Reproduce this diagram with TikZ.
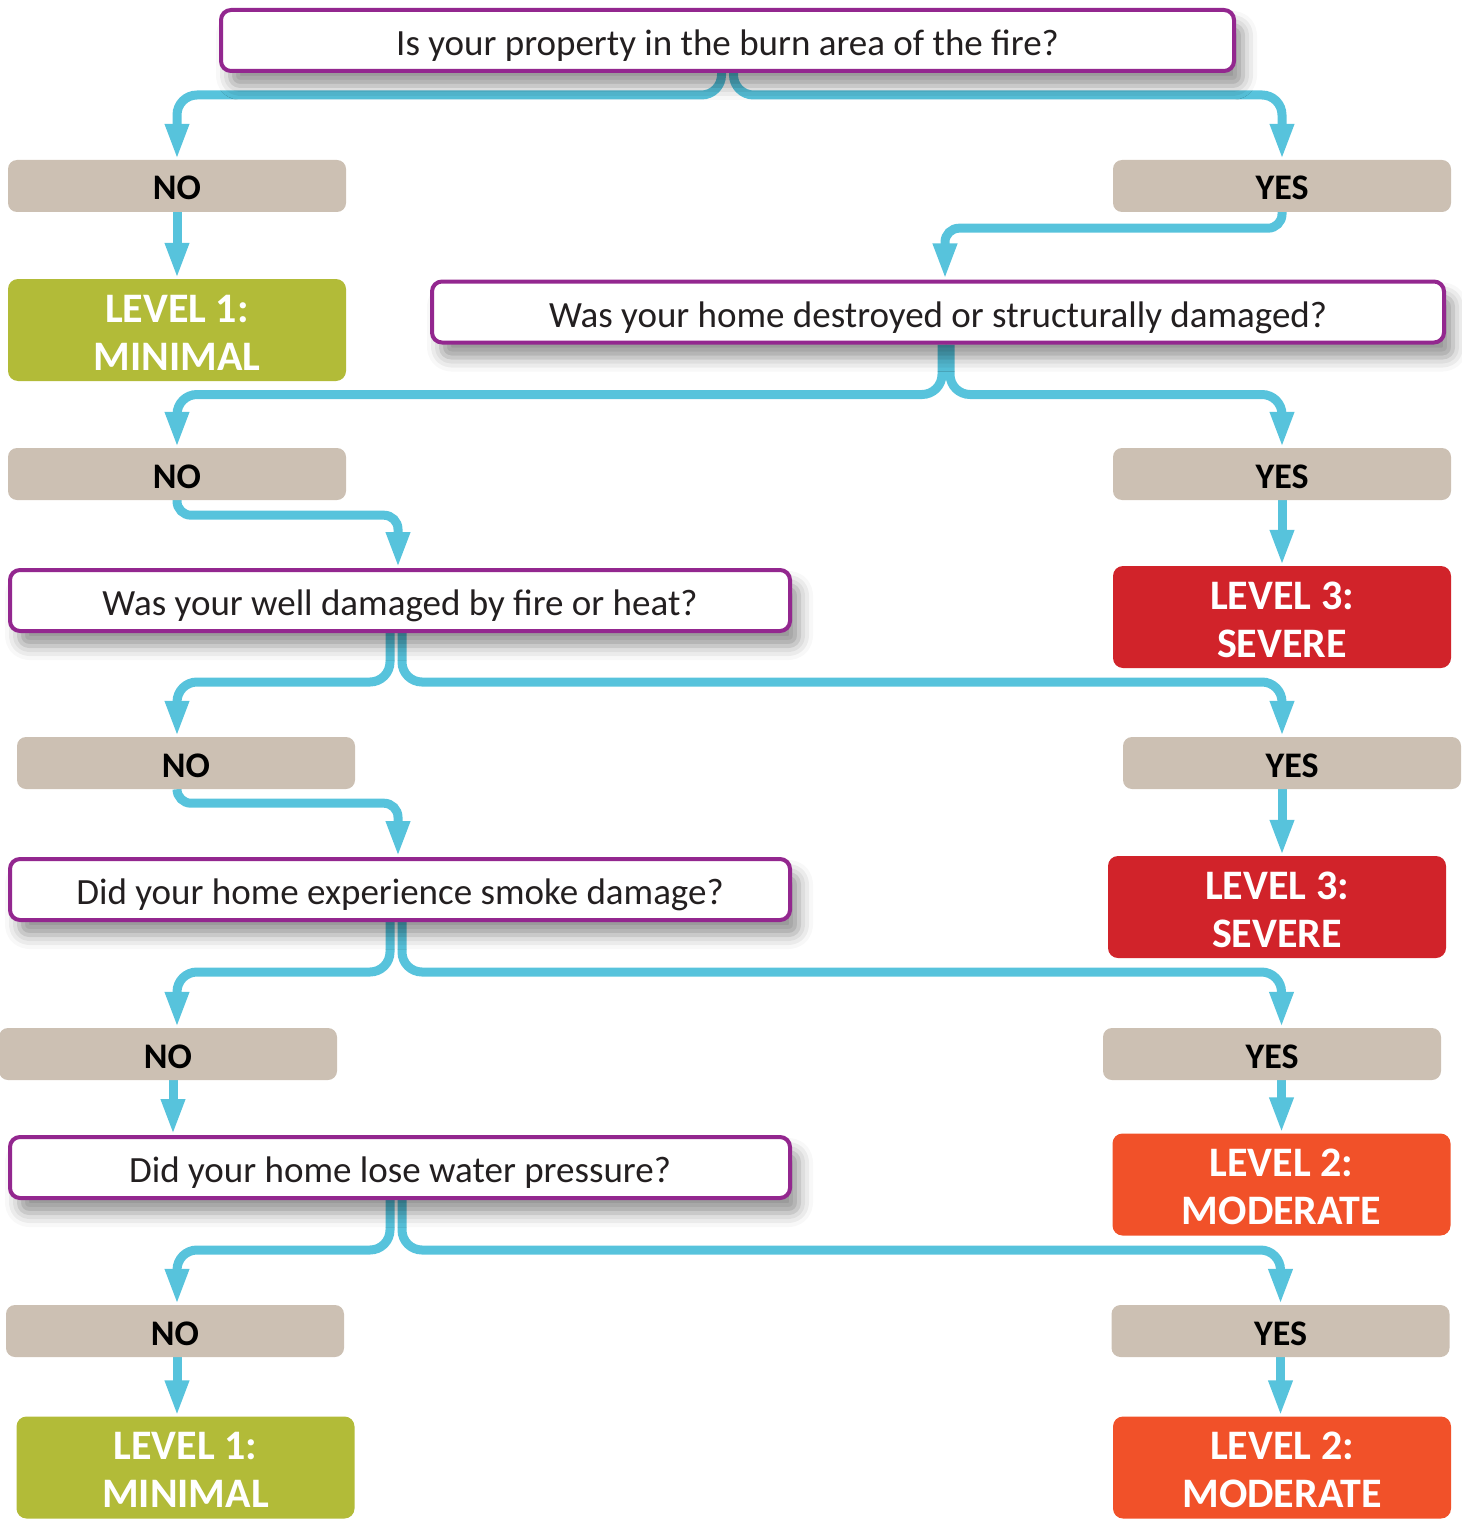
\documentclass[tikz,border=0pt]{standalone}
\usepackage{fontspec}
\setmainfont{Carlito}
\usetikzlibrary{arrows.meta,shadows.blur,backgrounds}
\definecolor{flowline}{HTML}{57C3DC}
\definecolor{qpurple}{HTML}{93278F}
\definecolor{qtext}{HTML}{231F20}
\definecolor{anstan}{HTML}{CCC0B3}
\definecolor{lvlgreen}{HTML}{B2BB38}
\definecolor{lvlred}{HTML}{D1232A}
\definecolor{lvlorange}{HTML}{F15129}
\tikzset{
  question/.style={draw=qpurple, line width=4pt, fill=white, rounded corners=10pt, minimum width=1012pt, minimum height=61pt, inner sep=0pt, text=qtext, font=\fontsize{37}{42}\selectfont, text height=30pt, text depth=0pt, blur shadow={shadow xshift=9pt, shadow yshift=-15pt, shadow blur radius=14pt, shadow opacity=42}},
  answer/.style={fill=anstan, rounded corners=9pt, minimum width=338pt, minimum height=52pt, inner sep=0pt, font=\fontsize{36}{40}\selectfont\bfseries, text height=28pt, text depth=0pt},
  level/.style={rounded corners=10pt, minimum width=338pt, minimum height=102pt, inner sep=0pt, align=center, text=white, font=\fontsize{42}{48}\selectfont\bfseries, text height=80pt, text depth=0pt},
  flow/.style={draw=flowline, line width=9pt, rounded corners=14pt, -{Triangle[width=22pt,length=36pt]}},
  split/.style={flow, rounded corners=20pt}
}
\begin{document}
\begin{tikzpicture}[x=1pt,y=-1pt]
\useasboundingbox (0,0) rectangle (1461,1522);
\node[question, minimum width=1013pt] (q1) at (727.5,40.5) {Is your property in the burn area of the fire?};
\node[answer] (no1) at (177,186) {NO};
\node[answer] (yes1) at (1282,186) {YES};
\node[level, fill=lvlgreen] (lev1a) at (177,330) {LEVEL 1:\\MINIMAL};
\node[question] (q2) at (938,312) {Was your home destroyed or structurally damaged?};
\node[answer] (no2) at (177,474) {NO};
\node[answer] (yes2) at (1282,474) {YES};
\node[level, fill=lvlred] (lev3a) at (1282,617) {LEVEL 3:\\SEVERE};
\node[question, minimum width=780pt] (q3) at (400,600.5) {Was your well damaged by fire or heat?};
\node[answer] (no3) at (186,763) {NO};
\node[answer] (yes3) at (1292,763) {YES};
\node[level, fill=lvlred] (lev3b) at (1277,907) {LEVEL 3:\\SEVERE};
\node[question, minimum width=780pt] (q4) at (400,889.5) {Did your home experience smoke damage?};
\node[answer] (no4) at (168,1054) {NO};
\node[answer] (yes4) at (1272,1054) {YES};
\node[level, fill=lvlorange] (lev2a) at (1281.5,1184.5) {LEVEL 2:\\MODERATE};
\node[question, minimum width=780pt] (q5) at (400,1167.5) {Did your home lose water pressure?};
\node[answer] (no5) at (175,1331) {NO};
\node[answer] (yes5) at (1280.5,1331) {YES};
\node[level, fill=lvlgreen] (lev1b) at (185.5,1467.5) {LEVEL 1:\\MINIMAL};
\node[level, fill=lvlorange] (lev2b) at (1282,1467.5) {LEVEL 2:\\MODERATE};
\begin{scope}[on background layer]
\draw[split] ([xshift=-6pt]q1.south) -- ++(0,22) -| (no1.north);
\draw[split] ([xshift=6pt]q1.south) -- ++(0,22) -| (yes1.north);
\draw[flow] (no1.south) -- (lev1a.north);
\draw[flow] (yes1.south) -- ++(0,16) -| ([xshift=7pt]q2.north);
\draw[split] ([xshift=4pt]q2.south) -- ++(0,50) -| (no2.north);
\draw[split] ([xshift=12pt]q2.south) -- ++(0,50) -| (yes2.north);
\draw[flow] (yes2.south) -- (lev3a.north);
\draw[flow] (no2.south) -- ++(0,15) -| ([xshift=-2pt]q3.north);
\draw[split] ([xshift=-10pt]q3.south) -- ++(0,49) -| (no3.north -| no2.south);
\draw[split] ([xshift=2pt]q3.south) -- ++(0,49) -| (yes3.north -| yes2.south);
\draw[flow] (yes3.south -| yes2.south) -- (lev3b.north -| yes2.south);
\draw[flow] (no3.south -| no2.south) -- ++(0,14) -| ([xshift=-2pt]q4.north);
\draw[split] ([xshift=-10pt]q4.south) -- ++(0,50) -| (no4.north -| no2.south);
\draw[split] ([xshift=2pt]q4.south) -- ++(0,50) -| (yes4.north -| lev2a.north);
\draw[flow] ([xshift=5pt]no4.south) -- ([xshift=5pt]no4.south |- q5.north);
\draw[flow] (lev2a.north |- yes4.south) -- (lev2a.north);
\draw[split] ([xshift=-10pt]q5.south) -- ++(0,50) -| (no5.north -| no2.south);
\draw[split] ([xshift=2pt]q5.south) -- ++(0,50) -| (yes5.north);
\draw[flow] (no5.south -| no2.south) -- (lev1b.north -| no2.south);
\draw[flow] (yes5.south) -- (yes5.south |- lev2b.north);
\end{scope}
\end{tikzpicture}
\end{document}
